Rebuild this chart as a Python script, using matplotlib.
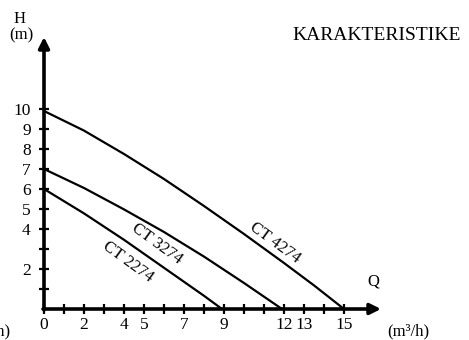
import matplotlib
matplotlib.use("Agg")
from matplotlib import pyplot as plt

plt.rcParams["font.family"] = ["Liberation Serif", "DejaVu Serif"]

# pump curves (Q in m3/h, H in m)
q_4274 = [0, 2, 4, 6, 8, 10, 12, 13.5, 15]
h_4274 = [9.9, 8.92, 7.75, 6.5, 5.15, 3.75, 2.3, 1.18, 0]
q_3274 = [0, 2, 4, 6, 8, 10, 11.9]
h_3274 = [7.0, 6.05, 4.98, 3.85, 2.62, 1.3, 0]
q_2274 = [0, 2, 4, 6, 8, 8.9]
h_2274 = [6.0, 4.78, 3.46, 2.06, 0.66, 0]

x_labels = [0, 2, 4, 5, 7, 9, 12, 13, 15]
y_labels = [2, 4, 5, 6, 7, 8, 9, 10]
curve_names = ["CT 4274", "CT 3274", "CT 2274"]
# where each name sits along its curve
name_pos = [(11.55, 3.3), (5.65, 3.25), (4.2, 2.35)]

W, H = 469, 340
fig = plt.figure(figsize=(W / 100, H / 100), dpi=100)
ax = fig.add_axes([44 / W, 31 / H, 340 / W, 280 / H])
ax.set_xlim(0, 17)
ax.set_ylim(0, 14)
for s in ax.spines.values():
    s.set_visible(False)

for q, h in [(q_4274, h_4274), (q_3274, h_3274), (q_2274, h_2274)]:
    ax.plot(q, h, color="black", lw=1.6, solid_capstyle="butt", solid_joinstyle="round")

for name, (x, y) in zip(curve_names, name_pos):
    ax.text(x, y, name, rotation=-36, ha="center", va="center", fontsize=12)

# axes with arrow heads
arrow = dict(arrowstyle="-|>", lw=2.6, color="black", mutation_scale=16, shrinkA=0, shrinkB=0)
ax.annotate("", xy=(16.85, 0), xytext=(-0.05, 0), arrowprops=arrow, annotation_clip=False)
ax.annotate("", xy=(0, 13.6), xytext=(0, -0.05), arrowprops=arrow, annotation_clip=False)

ax.set_xticks(x_labels)
ax.set_xticks([i for i in range(1, 16) if i not in x_labels], minor=True)
ax.set_yticks(y_labels)
ax.set_yticks([i for i in range(1, 11) if i not in y_labels], minor=True)
ax.tick_params(which="both", direction="inout", length=7, width=1.6, labelsize=12.5)
ax.tick_params(axis="y", which="both", pad=6)
ax.tick_params(axis="x", which="both", pad=2)

fig.text(20 / W, 1 - 19 / H, "H", ha="center", va="center", fontsize=12)
fig.text(21 / W, 1 - 35 / H, "(m)", ha="center", va="center", fontsize=12)
fig.text(373 / W, 1 - 281 / H, "Q", ha="center", va="center", fontsize=12)
fig.text(408 / W, 1 - 331 / H, "(m³/h)", ha="center", va="center", fontsize=12)
fig.text(377 / W, 1 - 35 / H, "KARAKTERISTIKE", ha="center", va="center", fontsize=14)
fig.text(10 / W, 1 - 331 / H, "(m³/h)", ha="right", va="center", fontsize=12)

fig.savefig("out.png", dpi=100)
